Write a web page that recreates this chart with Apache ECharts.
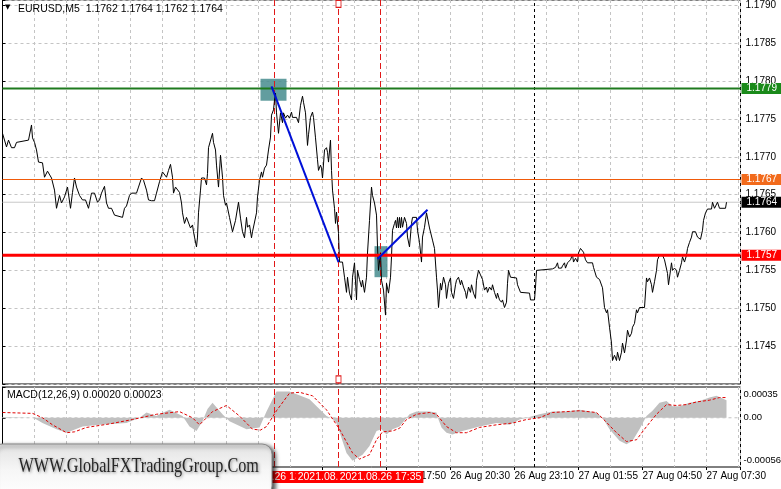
<!DOCTYPE html>
<html><head><meta charset="utf-8">
<script src="https://cdn.jsdelivr.net/npm/echarts/dist/echarts.min.js"></script>
<style>html,body{margin:0;padding:0;background:#fff}#c{width:781px;height:489px}</style>
</head><body><div id="c"></div>
<script>
// ---- data (x = bar index of the M5 chart, 0 = first visible bar) ----
const symbolTitle = 'EURUSD,M5  1.1762 1.1764 1.1762 1.1764';
const macdTitle = 'MACD(12,26,9) 0.00020 0.00023';
const priceLine = [[0,1.17731],[2,1.17713],[3,1.17722],[4.5,1.17712],[6,1.17712],[7,1.17719],[13,1.17722],[14.5,1.17742],[15,1.17725],[16,1.17719],[17,1.17709],[18,1.17693],[20,1.17692],[21,1.17673],[22.5,1.17681],[23.5,1.17680],[24.5,1.17672],[26,1.17656],[27,1.17632],[28.5,1.17649],[29.5,1.17639],[31,1.17647],[32.5,1.17660],[34,1.17632],[35,1.17653],[36,1.17672],[37,1.17660],[38.5,1.17649],[40,1.17643],[41.5,1.17643],[43,1.17632],[44.5,1.17652],[46,1.17652],[47.5,1.17640],[48.5,1.17643],[49.5,1.17652],[51,1.17661],[52,1.17639],[53,1.17632],[54.5,1.17632],[56,1.17623],[60,1.17620],[61,1.17632],[62,1.17635],[63.5,1.17649],[64.5,1.17652],[67,1.17652],[68,1.17660],[69.5,1.17672],[70.5,1.17669],[72,1.17656],[73,1.17643],[74.5,1.17642],[76,1.17642],[77,1.17652],[78.5,1.17667],[80,1.17680],[81,1.17680],[82,1.17673],[83,1.17682],[84,1.17690],[85,1.17673],[85.5,1.17652],[86.5,1.17660],[87.5,1.17660],[88.5,1.17653],[89.5,1.17639],[90,1.17626],[91,1.17612],[92,1.17620],[93,1.17620],[94,1.17606],[95,1.17610],[95.5,1.17601],[96,1.17594],[97,1.17581],[97.5,1.17594],[98,1.17626],[99,1.17656],[99.5,1.17672],[101,1.17672],[102,1.17663],[102.5,1.17678],[103,1.17712],[104,1.17713],[105,1.17731],[105.5,1.17719],[106.5,1.17709],[107,1.17689],[108,1.17660],[109,1.17702],[110,1.17673],[110.5,1.17649],[111.5,1.17636],[112,1.17639],[113.5,1.17620],[115,1.17601],[116.5,1.17616],[118,1.17640],[119,1.17619],[120,1.17601],[121,1.17593],[122,1.17620],[122.5,1.17607],[123.5,1.17610],[124.5,1.17593],[125,1.17601],[126,1.17603],[127,1.17626],[127.5,1.17647],[128.5,1.17669],[129.5,1.17680],[130,1.17673],[131,1.17685],[132,1.17689],[133,1.17709],[134,1.17726],[134.5,1.17755],[135.5,1.17762],[136,1.17775],[136.5,1.17784],[137,1.17758],[138,1.17731],[139,1.17758],[140,1.17745],[140.5,1.17758],[141.5,1.17751],[142.5,1.17755],[143.5,1.17751],[144.5,1.17759],[145,1.17752],[147,1.17752],[148,1.17745],[149,1.17768],[150,1.17780],[150.5,1.17772],[151.5,1.17758],[152.5,1.17715],[153,1.17729],[154,1.17752],[155,1.17759],[155.5,1.17752],[156.5,1.17725],[157.5,1.17696],[158,1.17682],[159,1.17689],[159.5,1.17685],[160,1.17672],[161,1.17709],[162,1.17712],[162.5,1.17706],[163,1.17693],[164,1.17722],[164.5,1.17682],[165,1.17656],[166,1.17632],[166.5,1.17612],[167,1.17627],[168,1.17599],[168.5,1.17561],[170,1.17561],[171,1.17541],[172,1.17521],[172.5,1.17541],[173.5,1.17520],[174.5,1.17511],[175,1.17541],[176,1.17560],[177,1.17511],[177.5,1.17550],[178.5,1.17538],[179.5,1.17528],[180,1.17537],[181,1.17521],[182,1.17541],[182.5,1.17573],[183.5,1.17616],[184.5,1.17660],[185,1.17649],[186,1.17639],[187,1.17623],[187.5,1.17581],[188,1.17550],[189,1.17573],[189.5,1.17537],[190.5,1.17524],[191.5,1.17491],[192,1.17533],[193,1.17520],[194,1.17541],[194.5,1.17568],[195,1.17603],[196,1.17612],[196.5,1.17616],[197,1.17606],[197.5,1.17620],[198,1.17606],[198.5,1.17620],[199,1.17606],[199.5,1.17620],[200,1.17607],[201,1.17620],[202,1.17612],[202.5,1.17594],[203.5,1.17581],[204.5,1.17612],[205,1.17620],[207,1.17620],[207.5,1.17603],[208.5,1.17587],[209.5,1.17561],[210,1.17594],[211,1.17607],[212,1.17626],[212.5,1.17626],[213.5,1.17606],[215,1.17590],[216,1.17579],[217,1.17541],[217.5,1.17524],[218,1.17501],[219,1.17533],[219.5,1.17524],[220.5,1.17541],[221.5,1.17531],[222,1.17513],[223,1.17533],[224,1.17540],[224.5,1.17521],[225.5,1.17513],[226.5,1.17531],[227,1.17537],[228,1.17541],[229,1.17531],[229.5,1.17537],[230.5,1.17528],[231.5,1.17521],[232,1.17513],[233,1.17528],[234,1.17521],[234.5,1.17531],[235.5,1.17520],[236.5,1.17513],[237,1.17537],[238,1.17550],[239,1.17544],[240,1.17538],[241,1.17524],[242,1.17528],[242.5,1.17521],[243.5,1.17528],[244.5,1.17524],[245,1.17531],[246,1.17521],[247,1.17513],[247.5,1.17520],[248.5,1.17511],[249.5,1.17508],[250,1.17511],[251,1.17501],[252,1.17508],[252.5,1.17533],[253,1.17550],[254,1.17541],[257,1.17540],[257.5,1.17531],[259,1.17521],[263.5,1.17520],[264,1.17511],[266,1.17511],[266.5,1.17528],[267,1.17550],[267.5,1.17552],[275,1.17552],[276.5,1.17554],[277.5,1.17560],[278,1.17553],[279.5,1.17553],[280,1.17556],[281,1.17560],[281.5,1.17553],[282.5,1.17560],[283,1.17560],[284,1.17564],[285,1.17571],[285.5,1.17561],[286.5,1.17566],[287.5,1.17561],[288,1.17573],[289,1.17579],[290,1.17581],[290.5,1.17574],[291.5,1.17564],[292.5,1.17560],[295,1.17560],[295.5,1.17554],[297,1.17541],[298.5,1.17538],[300,1.17527],[301,1.17501],[302,1.17494],[302.5,1.17498],[303.5,1.17475],[304.5,1.17454],[305,1.17431],[306,1.17438],[307,1.17431],[307.5,1.17442],[308.5,1.17431],[309.5,1.17442],[310,1.17454],[311,1.17441],[312,1.17458],[312.5,1.17471],[313.5,1.17462],[314.5,1.17467],[315,1.17475],[316,1.17480],[317,1.17498],[317.5,1.17494],[318.5,1.17501],[321,1.17501],[322,1.17540],[322.5,1.17535],[323.5,1.17540],[324.5,1.17531],[325,1.17521],[326,1.17535],[327,1.17550],[327.5,1.17564],[328.5,1.17570],[330,1.17570],[331,1.17564],[332,1.17564],[332.5,1.17546],[333,1.17531],[334,1.17550],[334.5,1.17560],[335,1.17550],[336,1.17553],[337,1.17550],[337.5,1.17541],[338.5,1.17550],[339.5,1.17560],[340,1.17568],[341,1.17561],[342,1.17570],[342.5,1.17579],[343.5,1.17587],[344.5,1.17594],[345,1.17601],[346.5,1.17601],[347.5,1.17594],[349,1.17591],[350,1.17603],[350.5,1.17616],[351.5,1.17626],[352.5,1.17631],[354.5,1.17631],[355,1.17640],[356,1.17632],[357,1.17632],[357.5,1.17640],[358.5,1.17632],[361.5,1.17632],[362,1.17640]];
const macdHist = [[0,0.00001],[15,0.00000],[17,-0.00002],[20,-0.00006],[27,-0.00013],[32,-0.00017],[40,-0.00010],[48.5,-0.00008],[62,-0.00006],[68.5,0.00000],[72,0.00006],[77,0.00002],[78.5,0.00004],[83.5,0.00009],[90,0.00002],[93.5,-0.00010],[97,-0.00015],[100,-0.00004],[102.5,0.00010],[105,0.00017],[110,0.00004],[113.5,-0.00004],[122,-0.00013],[128.5,-0.00011],[132,0.00007],[137,0.00030],[143.5,0.00030],[153.5,0.00021],[162,0.00002],[165,-0.00001],[167,-0.00006],[172,-0.00040],[175,-0.00049],[180,-0.00042],[183.5,-0.00032],[187,-0.00015],[189.5,-0.00013],[192,-0.00019],[195,-0.00013],[198.5,-0.00010],[201,-0.00003],[203.5,0.00004],[207,0.00007],[213.5,0.00007],[217,0.00006],[218,-0.00002],[219.5,-0.00011],[222,-0.00017],[225,-0.00019],[230,-0.00015],[238.5,-0.00010],[247,-0.00006],[253.5,-0.00008],[258.5,-0.00002],[262,0.00000],[268.5,0.00004],[275,0.00007],[282,0.00007],[288.5,0.00009],[297,0.00006],[300,0.00000],[303.5,-0.00013],[308.5,-0.00026],[312,-0.00030],[315,-0.00026],[318.5,-0.00013],[322,0.00002],[325,0.00008],[328.5,0.00017],[332,0.00019],[335,0.00013],[338.5,0.00013],[343.5,0.00017],[348.5,0.00019],[353.5,0.00023],[357,0.00025],[362,0.00020]];
const macdSignal = [[0,0.00006],[15,0.00005],[20,0.00000],[25,-0.00008],[32,-0.00017],[36,-0.00016],[42,-0.00011],[53.5,-0.00007],[65,-0.00002],[77,0.00004],[88.5,0.00007],[95,0.00000],[98.5,-0.00008],[102,0.00000],[105,0.00007],[112,0.00014],[118.5,0.00002],[125,-0.00013],[129,-0.00014],[132,-0.00010],[137,0.00008],[143.5,0.00028],[148.5,0.00029],[155,0.00025],[162,0.00009],[168.5,-0.00013],[175,-0.00040],[178.5,-0.00047],[183.5,-0.00042],[187,-0.00025],[190,-0.00016],[195,-0.00015],[198.5,-0.00012],[202,-0.00002],[207,0.00004],[213.5,0.00006],[217,0.00004],[222,-0.00010],[227,-0.00017],[232,-0.00017],[238.5,-0.00011],[247,-0.00008],[255,-0.00006],[262,-0.00002],[268.5,0.00000],[275,0.00006],[282,0.00007],[288.5,0.00008],[297,0.00006],[301.5,-0.00004],[307,-0.00017],[312,-0.00027],[317,-0.00025],[322,-0.00010],[327,0.00004],[332,0.00015],[337,0.00014],[342,0.00015],[347,0.00018],[353.5,0.00020],[358.5,0.00023],[362,0.00023]];
const xMin = 0, xMax = 369;
const priceMin = 1.1740, priceMax = 1.17907;
const macdMin = -0.00056, macdMax = 0.00035;
const priceTicks = ['1.1745','1.1750','1.1755','1.1760','1.1765','1.1770','1.1775','1.1780','1.1785','1.1790'];
const macdTicks = [-0.00056, 0, 0.00035];
const macdTickText = ['-0.00056', '0.00', '0.00035'];
const timeTickIdx = [192, 224, 256, 288, 320, 352];
const timeTickText = ['26 Aug 17:50', '26 Aug 20:30', '26 Aug 23:10', '27 Aug 01:55', '27 Aug 04:50', '27 Aug 07:30'];
const levelValues = [1.1779, 1.1767, 1.1764, 1.1757];
const levelText = ['1.1779', '1.1767', '1.1764', '1.1757'];
const eventIdx = [136, 168, 189];
const eventText = ['2021.08.26 13:10', '2021.08.26 15:50', '2021.08.26 17:35'];
const daySeparatorIdx = 266;
const trendA = [[134.5, 1.17793], [168, 1.17561]];
const trendB = [[187.5, 1.17565], [212.5, 1.17630]];
const zoneA = [[129, 1.17803], [142, 1.17774]];
const zoneB = [[186, 1.17582], [192.5, 1.17541]];
const handleMarks = [[168, 1.17902], [168, 1.17406]];
const watermark = 'WWW.GlobalFXTradingGroup.Com';

// ---- styles ----
const FONT = 'Liberation Sans';
const levelColors = ['#1e7a1e', '#f05a0a', '#c8c8c8', '#ff0000'];
const levelBoxColors = ['#1a8a1a', '#f26a1b', '#000000', '#ff0000'];
const levelWidths = [2, 1.2, 1, 3];
const levelZ = [6, 6, 2, 6];
const gridLine = { show: true, lineStyle: { color: '#c4c4c4', type: [3, 3], width: 1 } };

const chart = echarts.init(document.getElementById('c'), null, { renderer: 'canvas' });

const plain = { type: 'line', symbol: 'none', silent: true, animation: false };

// horizontal price levels with their boxed price labels
const levelSeries = levelValues.map((v, i) => Object.assign({}, plain, {
  name: 'level' + i, xAxisIndex: 0, yAxisIndex: 0, z: levelZ[i],
  data: [[xMin, v], [xMax, v]],
  lineStyle: { color: levelColors[i], width: levelWidths[i] },
  endLabel: { show: true, formatter: levelText[i], distance: 1, color: '#fff',
    backgroundColor: levelBoxColors[i], padding: [1, 5, 0, 5], fontFamily: FONT, fontSize: 10 }
}));
// vertical event lines + day separator in both panes
function vLines(xAxisIndex, yAxisIndex, lo, hi) {
  const out = eventIdx.map((x, k) => Object.assign({}, plain, {
    name: 'ev' + xAxisIndex + k, xAxisIndex, yAxisIndex, z: 3,
    data: [[x, lo], [x, hi]], lineStyle: { color: '#e01818', width: 1, type: [6, 3] } }));
  out.push(Object.assign({}, plain, { name: 'sep' + xAxisIndex, xAxisIndex, yAxisIndex, z: 3,
    data: [[daySeparatorIdx, lo], [daySeparatorIdx, hi]], lineStyle: { color: '#000', width: 1, type: [3, 3] } }));
  return out;
}

const option = {
  animation: false,
  backgroundColor: '#fff',
  textStyle: { fontFamily: FONT },
  grid: [
    { left: 2.5, top: 0, width: 738, height: 384, show: true, borderColor: '#000', borderWidth: 1, containLabel: false, outerBoundsMode: 'none' },
    { left: 2.5, top: 387, width: 738, height: 80, show: true, borderColor: '#000', borderWidth: 1, containLabel: false, outerBoundsMode: 'none' }
  ],
  xAxis: [
    { type: 'value', gridIndex: 0, position: 'bottom', min: xMin, max: xMax, interval: 16, axisLine: { show: false }, axisTick: { show: false }, axisLabel: { show: false }, splitLine: gridLine },
    { type: 'value', gridIndex: 1, position: 'top', min: xMin, max: xMax, interval: 16, axisLine: { show: false }, axisTick: { show: false }, axisLabel: { show: false }, splitLine: gridLine },
    { type: 'value', gridIndex: 1, position: 'bottom', min: xMin, max: xMax, interval: 32, axisLine: { show: false },
      axisTick: { show: true, length: 3, lineStyle: { color: '#000' } },
      axisLabel: { align: 'left', margin: 4, fontSize: 10, color: '#000', fontFamily: FONT,
        formatter: v => { const i = timeTickIdx.indexOf(v); return i >= 0 ? timeTickText[i] : ''; } },
      splitLine: { show: false } }
  ],
  yAxis: [
    { type: 'value', gridIndex: 0, position: 'right', min: priceMin, max: priceMax, interval: 0.0005,
      axisLine: { show: true, lineStyle: { color: '#000' } },
      axisTick: { show: true, length: 3, lineStyle: { color: '#000' } },
      axisLabel: { margin: 5, fontSize: 10, color: '#000', fontFamily: FONT,
        formatter: v => { const s = v.toFixed(4); return priceTicks.includes(s) ? s : ''; } },
      splitLine: gridLine },
    { type: 'value', gridIndex: 1, position: 'right', min: macdMin, max: macdMax,
      axisLine: { show: true, lineStyle: { color: '#000' } },
      axisTick: { show: true, length: 3, customValues: macdTicks, lineStyle: { color: '#000' } },
      axisLabel: { margin: 3, fontSize: 9.5, color: '#000', fontFamily: FONT, customValues: macdTicks,
        formatter: v => {
          const i = macdTicks.findIndex(t => Math.abs(t - v) < 1e-9);
          if (i === 2) return '{t|' + macdTickText[i] + '}';
          if (i === 0) return '{b|' + macdTickText[i] + '}';
          return i >= 0 ? macdTickText[i] : '';
        },
        rich: {
          t: { padding: [14, 0, 0, 0], fontSize: 9.5, color: '#000', fontFamily: FONT },
          b: { padding: [0, 0, 14, 0], fontSize: 9.5, color: '#000', fontFamily: FONT }
        } },
      splitLine: { show: false } }
  ],
  series: [
    { name: 'zones', type: 'line', xAxisIndex: 0, yAxisIndex: 0, data: [], z: 1,
      markArea: { silent: true, itemStyle: { color: 'rgba(70,140,142,0.85)' },
        data: [[{ coord: zoneA[0] }, { coord: zoneA[1] }], [{ coord: zoneB[0] }, { coord: zoneB[1] }]] },
      markPoint: { silent: true, symbol: 'rect', symbolSize: [5, 7],
        itemStyle: { color: '#fff', borderColor: '#e01818', borderWidth: 1 }, label: { show: false },
        data: handleMarks.map(c => ({ coord: c })) } },
    ...vLines(0, 0, priceMin, priceMax),
    ...levelSeries,
    Object.assign({}, plain, { name: 'close', xAxisIndex: 0, yAxisIndex: 0, data: priceLine, z: 4,
      lineStyle: { color: '#000', width: 1 } }),
    Object.assign({}, plain, { name: 'trendA', xAxisIndex: 0, yAxisIndex: 0, data: trendA, z: 7,
      lineStyle: { color: '#0010d8', width: 2 } }),
    Object.assign({}, plain, { name: 'trendB', xAxisIndex: 0, yAxisIndex: 0, data: trendB, z: 7,
      lineStyle: { color: '#0010d8', width: 2 } }),
    Object.assign({}, plain, { name: 'macd', xAxisIndex: 1, yAxisIndex: 1, data: macdHist, z: 2,
      lineStyle: { width: 0, color: '#c0c0c0' }, areaStyle: { color: '#c0c0c0', opacity: 1, origin: 0 } }),
    Object.assign({}, plain, { name: 'zero', xAxisIndex: 1, yAxisIndex: 1, data: [[xMin, 0], [xMax, 0]], z: 3,
      lineStyle: { color: '#c4c4c4', width: 1, type: [3, 3] } }),
    ...vLines(1, 1, macdMin, macdMax),
    Object.assign({}, plain, { name: 'signal', xAxisIndex: 1, yAxisIndex: 1, data: macdSignal, z: 4,
      lineStyle: { color: '#e00000', width: 1, type: [3, 2] } })
  ]
};
chart.setOption(option);

// labels that depend on the axis scale
const graphics = [];
graphics.push({ type: 'text', z: 100, x: 5, y: 4, style: { text: '▼', font: '7px "DejaVu Sans"', fill: '#000' } });
graphics.push({ type: 'text', z: 100, x: 18, y: 4, style: { text: symbolTitle, font: '10.5px "' + FONT + '"', fill: '#000' } });
graphics.push({ type: 'text', z: 100, x: 7, y: 390, style: { text: macdTitle, font: '10.5px "' + FONT + '"', fill: '#000' } });
eventIdx.forEach((idx, k) => {
  const px = chart.convertToPixel({ xAxisIndex: 2 }, idx);
  graphics.push({ type: 'text', z: 110 + k, x: px, y: 471,
    style: { text: eventText[k], fill: '#fff', backgroundColor: '#ff0000', padding: [1, 2, 0, 2],
      align: 'center', verticalAlign: 'top', font: '10.5px "' + FONT + '"' } });
});
graphics.push({ type: 'rect', z: 200, shape: { x: -8, y: 444, width: 280, height: 52, r: 10 },
  style: { fill: new echarts.graphic.LinearGradient(0, 0, 0, 1, [{ offset: 0, color: '#e2e2e2' }, { offset: 0.5, color: '#f6f6f6' }, { offset: 1, color: '#ffffff' }]),
    stroke: '#8a8a8a', lineWidth: 1, shadowBlur: 4, shadowColor: 'rgba(0,0,0,0.7)', shadowOffsetX: 3, shadowOffsetY: 2 } });
graphics.push({ type: 'text', z: 201, x: 15, y: 466, scaleX: 0.77, originX: 15, originY: 466,
  style: { text: watermark, font: '21px "Liberation Serif"', fill: '#262626', verticalAlign: 'middle',
    textShadowColor: 'rgba(0,0,0,0.45)', textShadowBlur: 3, textShadowOffsetX: 1, textShadowOffsetY: 1 } });
chart.setOption({ graphic: graphics });
</script>
</body></html>
